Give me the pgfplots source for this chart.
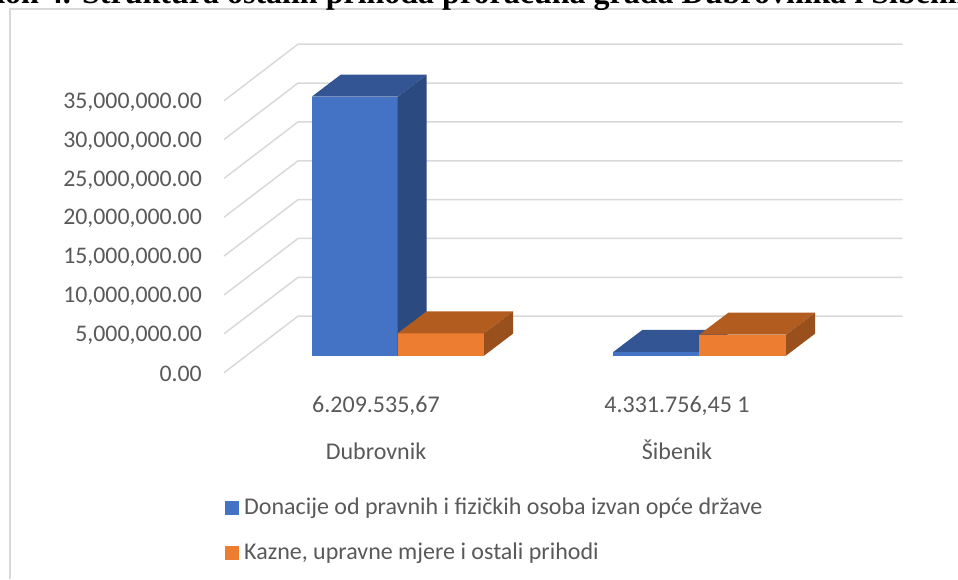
\documentclass[border=0pt]{standalone}
\usepackage{pgfplots}
\pgfplotsset{compat=1.18}
\usepackage{fontspec}
\setmainfont{Carlito}
\newfontfamily\titlefont{Liberation Serif}
\definecolor{gridc}{HTML}{D9D9D9}
\definecolor{txt}{HTML}{595959}
\definecolor{bluef}{HTML}{4472C4}
\definecolor{bluet}{HTML}{335593}
\definecolor{blues}{HTML}{2B4A80}
\definecolor{orangef}{HTML}{ED7D31}
\definecolor{oranget}{HTML}{B35C20}
\definecolor{oranges}{HTML}{9A501C}
% x v d : horizontal position, value, depth (0 front, 1 back) of a bar corner
\pgfplotsset{table/barface/.style={x expr=\thisrow{x}+29*\thisrow{d},y expr=\thisrow{v}+2187500+2830882*\thisrow{d},row sep=\\}}
\newcommand{\boxbar}[6]{%
 \addplot[fill=#4,draw=none,forget plot] table[barface]{x v d\\ #1 0 0\\ #2 0 0\\ #2 #3 0\\ #1 #3 0\\} --cycle;
 \addplot[fill=#5,draw=none,forget plot] table[barface]{x v d\\ #1 #3 0\\ #2 #3 0\\ #2 #3 1\\ #1 #3 1\\} --cycle;
 \addplot[fill=#6,draw=none,forget plot] table[barface]{x v d\\ #2 0 0\\ #2 0 1\\ #2 #3 1\\ #2 #3 0\\} --cycle;
}
\newcommand{\gridl}[1]{%
 \addplot[gridc,line width=1.5pt,forget plot] table[x expr=\thisrow{x},y expr=\thisrow{v}+7270000*\thisrow{d},row sep=\\]{x v d\\ 224 #1 0\\ 298 #1 1\\ 902.7 #1 1\\};
}
\begin{document}
\begin{tikzpicture}[x=1pt,y=1pt]
\useasboundingbox (0,0) rectangle (958,579);
\clip (0,0) rectangle (958,579);
\begin{axis}[
 at={(0,0)},anchor=south west,
 width=958pt,height=579pt,scale only axis,
 xmin=0,xmax=958,ymin=-26545956,ymax=47957720,
 clip=false,
 axis line style={draw=none},
 tick style={draw=none},
 ytick={0,5000000,10000000,15000000,20000000,25000000,30000000,35000000},
 scaled y ticks=false,
 yticklabel style={/pgf/number format/fixed,/pgf/number format/fixed zerofill,/pgf/number format/precision=2,/pgf/number format/1000 sep={,},/pgf/number format/assume math mode=true,font=\fontsize{23.8}{26}\selectfont,text=txt,anchor=east,xshift=202pt,yshift=-1.5pt,inner sep=0pt},
 xtick={376,677},
 xticklabels={{6.209.535,67\\[20.5pt]Dubrovnik},{4.331.756,45 1\\[20.5pt]Šibenik}},
 xticklabel style={align=center,font=\fontsize{24}{26}\selectfont,text=txt,anchor=south,yshift=116pt},
]
\gridl{0}\gridl{5000000}\gridl{10000000}\gridl{15000000}\gridl{20000000}\gridl{25000000}\gridl{30000000}\gridl{35000000}
\boxbar{311.7}{397.7}{33327000}{bluef}{bluet}{blues}
\boxbar{397.7}{484}{2880000}{orangef}{oranget}{oranges}
\boxbar{613.3}{699.3}{480000}{bluef}{bluet}{blues}
\boxbar{699.3}{786}{2700000}{orangef}{oranget}{oranges}
\addplot[gridc,line width=1.8pt,forget plot] coordinates {(10.3,-26545956)(10.3,46800000)(958,46800000)};
\node[anchor=base west,inner sep=0pt,font=\titlefont\bfseries\fontsize{32}{36}\selectfont,text=black] at (axis cs:82,47507000) {Struktura ostalih prihoda proračuna grada Dubrovnika i Šibenika};
\node[anchor=base east,inner sep=0pt,font=\titlefont\bfseries\fontsize{32}{36}\selectfont,text=black] at (axis cs:71,47507000) {Grafikon 4.};
\node[anchor=west,font=\fontsize{24}{26}\selectfont,text=txt,inner sep=0pt] at (axis cs:244,-17400000) {Donacije od pravnih i fizičkih osoba izvan opće države};
\node[anchor=west,font=\fontsize{24}{26}\selectfont,text=txt,inner sep=0pt] at (axis cs:244,-23190000) {Kazne, upravne mjere i ostali prihodi};
\addplot[fill=bluef,draw=none,forget plot] coordinates {(225,-16500000)(239,-16500000)(239,-18300000)(225,-18300000)} --cycle;
\addplot[fill=orangef,draw=none,forget plot] coordinates {(225,-22300000)(239,-22300000)(239,-24100000)(225,-24100000)} --cycle;
\end{axis}
\end{tikzpicture}
\end{document}
